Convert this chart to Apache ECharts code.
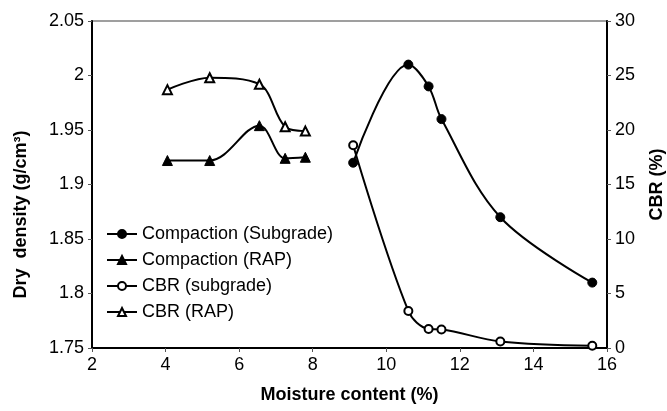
<!DOCTYPE html>
<html><head><meta charset="utf-8">
<script src="https://cdn.jsdelivr.net/npm/echarts@6/dist/echarts.min.js"></script>
<style>html,body{margin:0;padding:0;background:#fff}#c{width:667px;height:411px}</style>
</head><body><div id="c"></div>
<script>
const seriesNames = ['Compaction (Subgrade)', 'Compaction (RAP)', 'CBR (subgrade)', 'CBR (RAP)'];
const subgradeMoisture = [9.1, 10.6, 11.15, 11.5, 13.1, 15.6];
const subgradeDensity = [1.92, 2.01, 1.99, 1.96, 1.87, 1.81];
const subgradeCBR = [18.6, 3.4, 1.75, 1.7, 0.6, 0.2];
const rapMoisture = [4.05, 5.2, 6.55, 7.25, 7.8];
const rapDensity = [1.922, 1.922, 1.954, 1.924, 1.925];
const rapCBR = [23.7, 24.8, 24.2, 20.3, 19.9];
const xTicks = {min: 2, max: 16, interval: 2};
const yLeftTicks = {min: 1.75, max: 2.05, interval: 0.05};
const yRightTicks = {min: 0, max: 30, interval: 5};

const zip = (xs, ys) => xs.map((x, i) => [x, ys[i]]);
const font = 'Liberation Sans, Arial, sans-serif';
const txt = '#000';

const chart = echarts.init(document.getElementById('c'), null, {renderer: 'canvas'});
const lineStyle = {color: '#000', width: 2};
const mk = (name, data, yIdx, symbol, size) => ({
  name, type: 'line', data, yAxisIndex: yIdx, smooth: 0.35,
  symbol, symbolSize: size, showSymbol: true,
  lineStyle, itemStyle: {color: '#000', borderColor: '#000', borderWidth: 1},
  z: 3
});
chart.setOption({
  animation: false,
  backgroundColor: '#fff',
  textStyle: {fontFamily: font},
  grid: {left: 92, right: 60, top: 21, bottom: 63, show: true, borderColor: '#808080', borderWidth: 1.5,
         containLabel: false, outerBoundsMode: 'none'},
  legend: {
    orient: 'vertical', left: 101, top: 220, itemWidth: 30, itemHeight: 10, itemGap: 8,
    textStyle: {fontSize: 18, color: txt, fontFamily: font},
    data: seriesNames
  },
  xAxis: {
    type: 'value', min: xTicks.min, max: xTicks.max, interval: xTicks.interval,
    name: 'Moisture content (%)', nameLocation: 'middle', nameGap: 38,
    nameTextStyle: {fontSize: 18, fontWeight: 'bold', color: txt, fontFamily: font},
    axisLine: {lineStyle: {color: '#000', width: 2}},
    axisTick: {show: true, inside: false, length: 4, lineStyle: {color: '#555'}},
    axisLabel: {fontSize: 18, color: txt, margin: 8},
    splitLine: {show: false}
  },
  yAxis: [{
    type: 'value', min: yLeftTicks.min, max: yLeftTicks.max, interval: yLeftTicks.interval,
    name: 'Dry  density (g/cm³)', nameLocation: 'middle', nameGap: 62, nameRotate: 90,
    nameTextStyle: {fontSize: 18, fontWeight: 'bold', color: txt, fontFamily: font, padding: [0, 60, 0, 0]},
    axisLine: {show: true, lineStyle: {color: '#000', width: 2}},
    axisTick: {show: true, inside: false, length: 4, lineStyle: {color: '#555'}},
    axisLabel: {fontSize: 18, color: txt, margin: 8},
    splitLine: {show: false}
  }, {
    type: 'value', position: 'right', min: yRightTicks.min, max: yRightTicks.max, interval: yRightTicks.interval,
    name: 'CBR (%)', nameLocation: 'middle', nameGap: 41, nameRotate: 90,
    nameTextStyle: {fontSize: 18, fontWeight: 'bold', color: txt, fontFamily: font},
    axisLine: {show: true, lineStyle: {color: '#000', width: 2}},
    axisTick: {show: true, inside: false, length: 4, lineStyle: {color: '#555'}},
    axisLabel: {fontSize: 18, color: txt, margin: 8},
    splitLine: {show: false}
  }],
  series: [
    mk(seriesNames[0], zip(subgradeMoisture, subgradeDensity), 0, 'circle', 9),
    mk(seriesNames[1], zip(rapMoisture, rapDensity), 0, 'triangle', 10),
    mk(seriesNames[2], zip(subgradeMoisture, subgradeCBR), 1, 'emptyCircle', 8),
    mk(seriesNames[3], zip(rapMoisture, rapCBR), 1, 'emptyTriangle', 9)
  ]
});
</script></body></html>
